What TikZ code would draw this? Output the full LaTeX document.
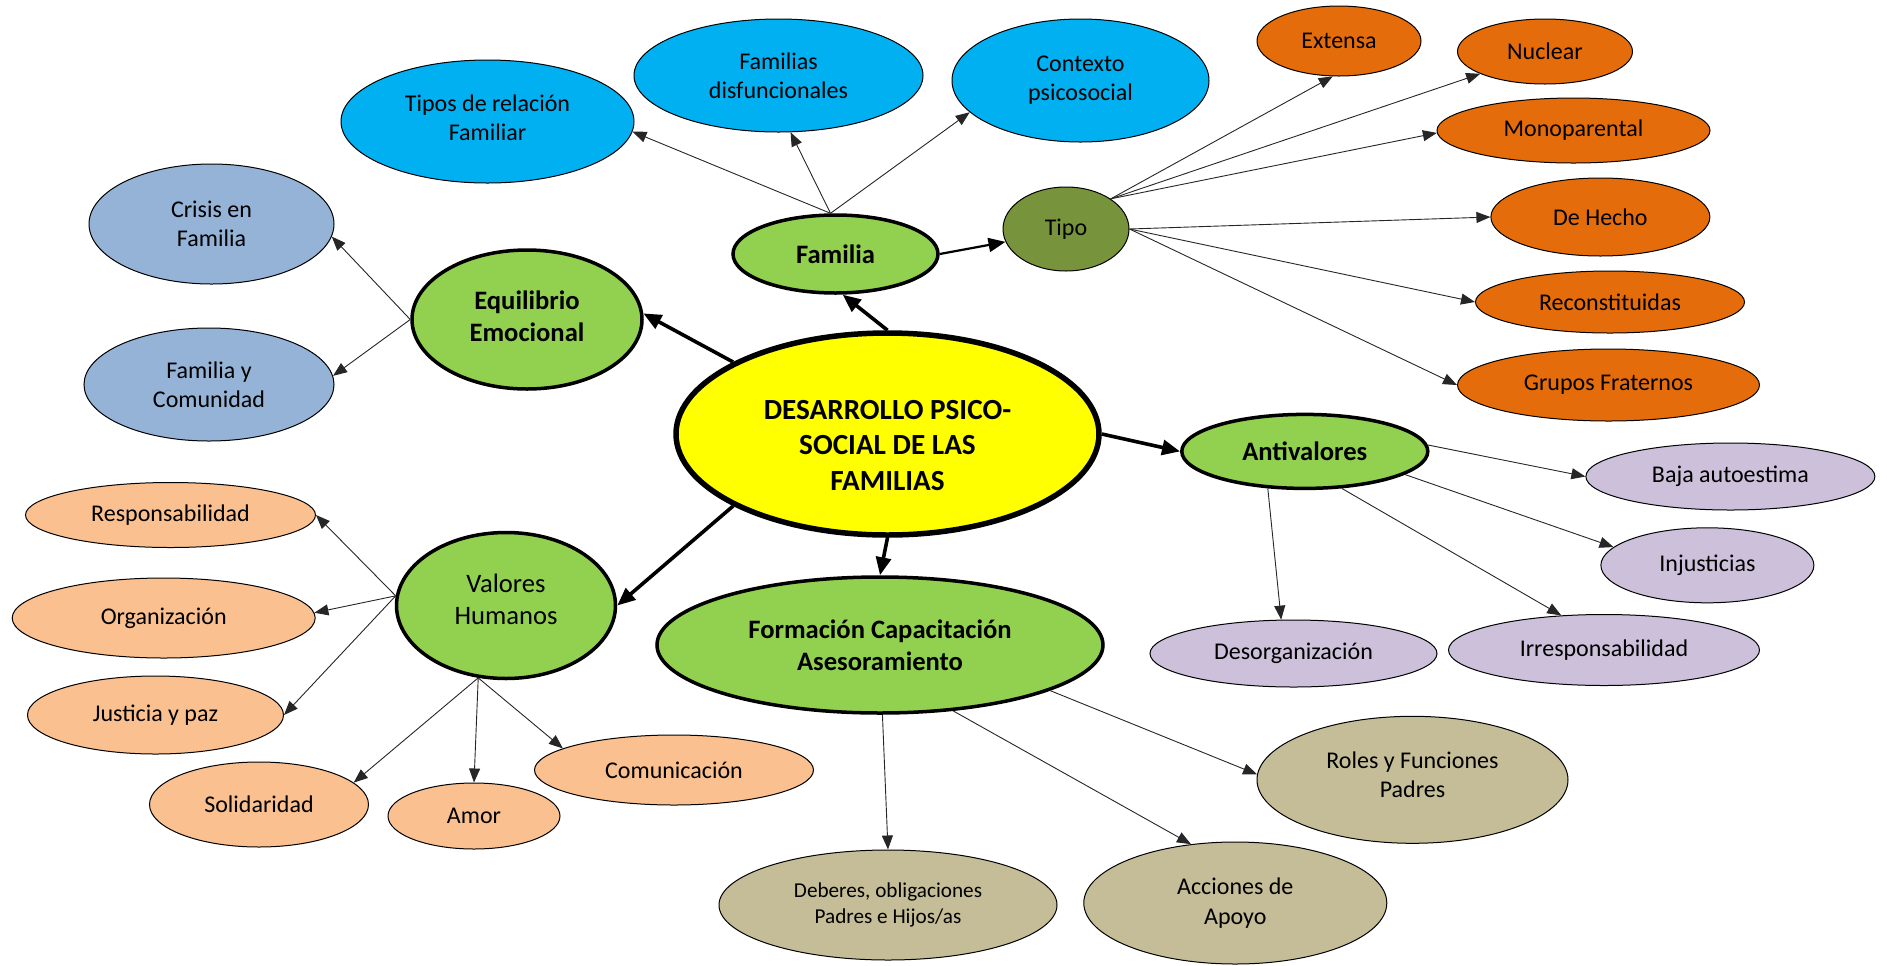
\documentclass[tikz,border=0pt]{standalone}
\usepackage{fontspec}
\setmainfont{Carlito}
\usetikzlibrary{arrows.meta, shapes.geometric}

\definecolor{dpyellow}{HTML}{FFFF00}
\definecolor{branchgreen}{HTML}{92D050}
\definecolor{tipoolive}{HTML}{77933C}
\definecolor{famblue}{HTML}{00B0F0}
\definecolor{equigrey}{HTML}{95B3D7}
\definecolor{tipoorange}{HTML}{E46C0A}
\definecolor{antililac}{HTML}{CCC0DA}
\definecolor{valpeach}{HTML}{FAC090}
\definecolor{formtan}{HTML}{C4BD97}

% invisible struts to nudge the text of a node up or down
\newcommand{\nudgedown}[1]{\rule{0pt}{#1}}
\newcommand{\nudgeup}[1]{\rule[-#1]{0pt}{0pt}}

\begin{document}
\begin{tikzpicture}[x=0.5pt, y=-0.5pt,
                        every node/.style={ellipse, draw, inner sep=0pt, line width=0.5pt, align=center,
                                           font=\fontsize{12}{14.6}\selectfont},
                        every path/.style={-{Triangle[length=7pt, width=5.5pt]}},
                    ]

    % Define custom styles for the ovals and the links
    \tikzset{
        oval size/.style n args={2}{minimum width=#1*0.5pt, minimum height=#2*0.5pt},
        leaf/.style={fill=#1},
        branch/.style={fill=branchgreen, line width=1.75pt, font=\bfseries\fontsize{13.3}{16.2}\selectfont},
        centre/.style={fill=dpyellow, line width=2.75pt, font=\bfseries\fontsize{14.6}{17.8}\selectfont},
        main link/.style={line width=1.8pt, -{Triangle[length=9pt, width=7.5pt]}},
        mid link/.style={line width=1.1pt, -{Triangle[length=8.5pt, width=7pt]}},
        sub link/.style={line width=0.45pt, draw=black!85}
    }

    \useasboundingbox (0, 0) rectangle (1887, 965);

    % Centre and main branches
    \node[centre, oval size={423}{202}] (DP) at (887.5, 434) {\nudgedown{21pt}DESARROLLO PSICO-\\SOCIAL DE LAS\\FAMILIAS};
    \node[branch, oval size={205}{78}] (Fam) at (835.5, 254) {Familia};
    \node[branch, oval size={230}{139}] (Equi) at (527, 319.5) {Equilibrio\\Emocional\nudgeup{3.5pt}};
    \node[branch, oval size={246}{74}] (Anti) at (1304.8, 451.4) {Antivalores};
    \node[branch, oval size={219}{146}, font=\fontsize{13.3}{16.2}\selectfont] (Val) at (506, 605.5) {Valores\\Humanos\nudgeup{6pt}};
    \node[branch, oval size={446}{136}] (Form) at (880, 645) {Formación Capacitación\\Asesoramiento};
    \node[leaf=tipoolive, oval size={126}{84}] (Tipo) at (1066, 229) {Tipo};

    % Familia row
    \node[leaf=famblue, oval size={293}{123}] (Tipos) at (487.5, 121.5) {Tipos de relación\\Familiar\nudgeup{3.5pt}};
    \node[leaf=famblue, oval size={289}{113}] (FamDisf) at (778.5, 75.5) {Familias\\disfuncionales};
    \node[leaf=famblue, oval size={257}{123}] (Contexto) at (1080.5, 80.5) {Contexto\\psicosocial};

    % Tipo column
    \node[leaf=tipoorange, oval size={164}{70}] (Ext) at (1339, 41) {Extensa};
    \node[leaf=tipoorange, oval size={175}{65}] (Nuc) at (1545, 51.5) {Nuclear};
    \node[leaf=tipoorange, oval size={273}{65}] (Mono) at (1573.5, 130.5) {Monoparental};
    \node[leaf=tipoorange, oval size={219}{78}] (DeHecho) at (1600.4, 217) {De Hecho};
    \node[leaf=tipoorange, oval size={269}{62}] (Recons) at (1610, 302) {Reconstituidas};
    \node[leaf=tipoorange, oval size={302}{72}] (Grupos) at (1608.5, 385) {Grupos Fraternos};

    % Equilibrio
    \node[leaf=equigrey, oval size={245}{120}] (Crisis) at (211.5, 224) {Crisis en\\Familia};
    \node[leaf=equigrey, oval size={250}{113}] (FamCom) at (209, 384.5) {Familia y\\Comunidad};

    % Antivalores
    \node[leaf=antililac, oval size={289}{67}] (Baja) at (1730.4, 476.5) {Baja autoestima};
    \node[leaf=antililac, oval size={213}{75}] (Inj) at (1707.4, 565.3) {Injusticias};
    \node[leaf=antililac, oval size={287}{67}] (Des) at (1293.5, 653.5) {Desorganización};
    \node[leaf=antililac, oval size={311}{71}] (Irr) at (1604, 650) {Irresponsabilidad};

    % Valores Humanos
    \node[leaf=valpeach, oval size={290}{65}] (Resp) at (170.5, 515) {Responsabilidad};
    \node[leaf=valpeach, oval size={303}{80}] (Org) at (163.7, 618) {Organización};
    \node[leaf=valpeach, oval size={256}{78}] (Just) at (155.5, 715) {Justicia y paz};
    \node[leaf=valpeach, oval size={219}{85}] (Sol) at (259, 804.5) {Solidaridad};
    \node[leaf=valpeach, oval size={172}{66}] (Amor) at (474, 816) {Amor};
    \node[leaf=valpeach, oval size={279}{70}] (Com) at (674, 770) {Comunicación};

    % Formacion
    \node[leaf=formtan, oval size={338}{110}, font=\fontsize{10.6}{13.2}\selectfont] (Deb) at (888, 905) {Deberes, obligaciones\\Padres e Hijos/as};
    \node[leaf=formtan, oval size={303}{122}] (Acc) at (1235.3, 903) {Acciones de\\Apoyo};
    \node[leaf=formtan, oval size={311}{127}] (Roles) at (1412.5, 779.8) {Roles y Funciones\\Padres\nudgeup{5pt}};

    % Edges from the centre
    \draw[main link] (DP.north) -- (Fam.-80);
    \draw[main link] (DP.155) -- (Equi.3);
    \draw[main link] (DP.east) -- (Anti.west);
    \draw[main link] (DP.205) -- (Val.east);
    \draw[main link] (DP.south) -- (Form.north);
    \draw[mid link] (Fam.east) -- (Tipo.192);

    % Edges to the leaves
    \foreach \t/\a in {Tipos/-4, FamDisf/-78, Contexto/196}
        \draw[sub link] (Fam.97) -- (\t.\a);
    \foreach \t/\a in {Ext/260, Nuc/199, Mono/181}
        \draw[sub link] (Tipo.34) -- (\t.\a);
    \foreach \t in {DeHecho, Recons, Grupos}
        \draw[sub link] (Tipo.east) -- (\t.west);
    \foreach \t/\a in {Crisis/-6, FamCom/4}
        \draw[sub link] (Equi.west) -- (\t.\a);
    \foreach \t/\a in {Resp/0, Org/2, Just/0}
        \draw[sub link] (Val.175) -- (\t.\a);
    \foreach \t/\a in {Sol/13, Amor/north, Com/169}
        \draw[sub link] (Val.249) -- (\t.\a);
    \draw[sub link] (Anti.3) -- (Baja.west);
    \draw[sub link] (Anti.-13) -- (Inj.169);
    \draw[sub link] (Anti.-45) -- (Irr.141);
    \draw[sub link] (Anti.225) -- (Des.110);
    \draw[sub link] (Form.-88) -- (Deb.north);
    \draw[sub link] (Form.-42) -- (Acc.127.5);
    \draw[sub link] (Form.-15.5) -- (Roles.178);

\end{tikzpicture}
\end{document}
